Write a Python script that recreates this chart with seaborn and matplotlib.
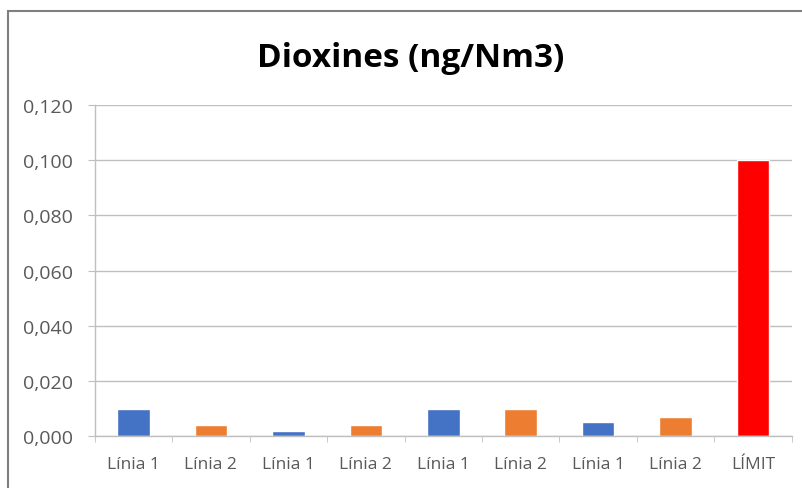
import matplotlib
matplotlib.use("Agg")
import matplotlib.pyplot as plt
import seaborn as sns
import pandas as pd
from matplotlib.patches import Rectangle
from matplotlib.ticker import FuncFormatter, MultipleLocator

# data
labels = ["Línia 1", "Línia 2", "Línia 1", "Línia 2", "Línia 1",
          "Línia 2", "Línia 1", "Línia 2", "LÍMIT"]
values = [0.010, 0.004, 0.002, 0.004, 0.010, 0.010, 0.005, 0.007, 0.100]
colors = ["#4472C4", "#ED7D31", "#4472C4", "#ED7D31", "#4472C4",
          "#ED7D31", "#4472C4", "#ED7D31", "#FF0000"]

df = pd.DataFrame({"pos": range(len(labels)), "value": values})

sns.set_style("white")
plt.rcParams['font.family'] = ['Open Sans', 'DejaVu Sans']

fig = plt.figure(figsize=(8.03, 4.89), dpi=100)
ax = fig.add_axes([0.118, 0.106, 0.868, 0.677])

sns.barplot(data=df, x="pos", y="value", hue="pos", palette=colors,
            width=0.42, legend=False, saturation=1, ax=ax)

ax.set_xlim(-0.5, len(labels) - 0.5)
ax.set_ylim(0, 0.12)
ax.yaxis.set_major_locator(MultipleLocator(0.02))
ax.yaxis.set_major_formatter(FuncFormatter(lambda v, p: f"{v:.3f}".replace(".", ",")))
ax.set_xticks(range(len(labels)))
ax.set_xticklabels(labels)
ax.set_xticks([i + 0.5 for i in range(-1, len(labels))], minor=True)

ax.grid(axis="y", color="#bfbfbf", linewidth=1)
ax.set_axisbelow(True)
for s in ["top", "right"]:
    ax.spines[s].set_visible(False)
for s in ["left", "bottom"]:
    ax.spines[s].set_color("#bfbfbf")
    ax.spines[s].set_linewidth(1)

ax.tick_params(axis="y", length=5, color="#bfbfbf", labelsize=14,
               labelcolor="#595959", pad=11, left=True)
ax.tick_params(axis="x", which="major", length=0, labelsize=12.5,
               labelcolor="#595959", pad=14)
ax.tick_params(axis="x", which="minor", length=4, color="#bfbfbf", bottom=True)
ax.set_xlabel("")
ax.set_ylabel("")

fig.text(411 / 803, 1 - 67 / 489, "Dioxines (ng/Nm3)", ha="center", va="baseline",
         fontsize=24, fontweight="bold", color="black")

# chart area border
fig.patches.append(Rectangle((8 / 803, -0.1), 1.2, 1.1 - 12 / 489,
                             transform=fig.transFigure, fill=False,
                             edgecolor="#7f7f7f", linewidth=1.5))

fig.savefig("out.png", dpi=100)
